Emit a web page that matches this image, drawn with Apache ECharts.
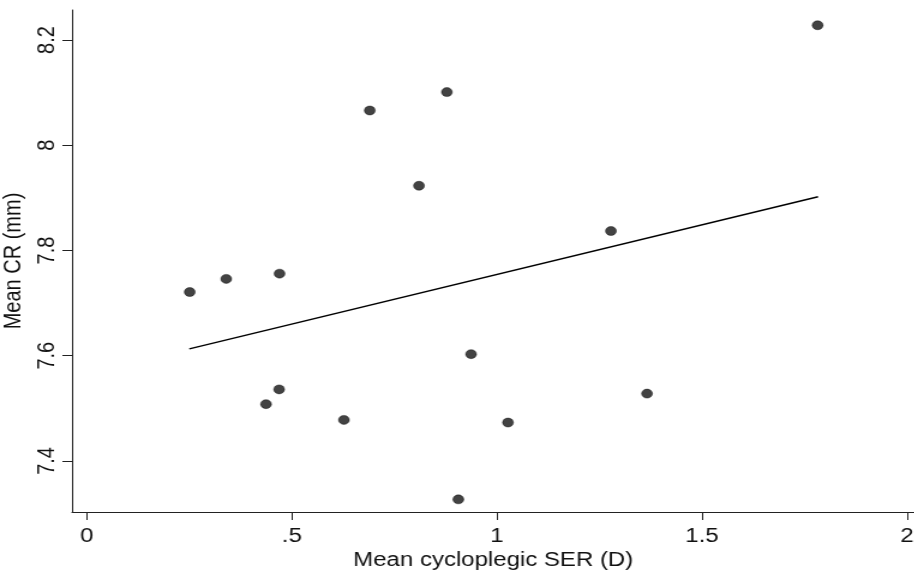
<!DOCTYPE html>
<html>
<head>
<meta charset="utf-8">
<script src="https://cdn.jsdelivr.net/npm/echarts@6/dist/echarts.min.js"></script>
<style>
  html, body { margin: 0; padding: 0; background: #fff; overflow: hidden; }
  /* the figure is drawn narrower and widened by 1.2 horizontally */
  #chart { width: 761.67px; height: 571px; transform: scaleX(1.2); transform-origin: 0 0; }
</style>
</head>
<body>
<div id="chart"></div>
<script>
// Mean cycloplegic spherical equivalent refraction (D) per subject
const serValues = [0.251, 0.340, 0.470, 0.437, 0.469, 0.627, 0.690, 0.810, 0.878, 0.937, 0.906, 1.027, 1.278, 1.366, 1.782];
// Mean corneal radius (mm) per subject
const crValues = [7.721, 7.746, 7.756, 7.508, 7.536, 7.478, 8.066, 7.923, 8.101, 7.603, 7.327, 7.473, 7.837, 7.528, 8.228];

// Linear fit endpoints
const fitSer = [0.250, 1.783];
const fitCr = [7.613, 7.902];

// Tick positions and their labels
const xTicks = [0, 0.5, 1, 1.5, 2];
const xTickLabels = ['0', '.5', '1', '1.5', '2'];
const yTicks = [7.4, 7.6, 7.8, 8, 8.2];
const yTickLabels = ['7.4', '7.6', '7.8', '8', '8.2'];

const points = serValues.map((v, i) => [v, crValues[i]]);
const fitLine = fitSer.map((v, i) => [v, fitCr[i]]);

const font = 'Liberation Sans, Arial, sans-serif';
const axisColor = '#222';
const textColor = '#111';

const chart = echarts.init(document.getElementById('chart'), null, { renderer: 'canvas' });

chart.setOption({
  animation: false,
  backgroundColor: '#ffffff',
  grid: { left: 60, right: 0, top: 10, bottom: 59, containLabel: false, outerBoundsMode: 'none' },
  xAxis: {
    type: 'value',
    min: -0.036,
    max: 2.018,
    name: 'Mean cycloplegic SER (D)',
    nameLocation: 'middle',
    nameGap: 38,
    nameTextStyle: { fontFamily: font, fontSize: 20, color: textColor },
    axisLine: { show: true, onZero: false, lineStyle: { color: axisColor, width: 1 } },
    axisTick: {
      show: true, length: 8, inside: false,
      customValues: xTicks,
      lineStyle: { color: axisColor, width: 1 }
    },
    axisLabel: {
      show: true,
      customValues: xTicks,
      fontFamily: font, fontSize: 20, color: textColor, margin: 14,
      formatter: (val) => {
        const idx = xTicks.findIndex(t => Math.abs(t - val) < 1e-9);
        return idx >= 0 ? xTickLabels[idx] : '';
      }
    },
    splitLine: { show: false }
  },
  yAxis: {
    type: 'value',
    min: 7.303,
    max: 8.257,
    name: 'Mean CR (mm)',
    nameLocation: 'middle',
    nameGap: 38,
    nameRotate: 90,
    nameTextStyle: { fontFamily: font, fontSize: 20, color: textColor },
    axisLine: { show: true, onZero: false, lineStyle: { color: axisColor, width: 1 } },
    axisTick: {
      show: true, length: 8, inside: false,
      customValues: yTicks,
      lineStyle: { color: axisColor, width: 1 }
    },
    axisLabel: {
      show: true,
      customValues: yTicks,
      rotate: 90,
      fontFamily: font, fontSize: 20, color: textColor, margin: 11,
      formatter: (val) => {
        const idx = yTicks.findIndex(t => Math.abs(t - val) < 1e-9);
        return idx >= 0 ? yTickLabels[idx] : '';
      }
    },
    splitLine: { show: false }
  },
  series: [
    {
      type: 'scatter',
      data: points,
      symbol: 'circle',
      symbolSize: 9,
      itemStyle: { color: '#141414', borderColor: '#000', borderWidth: 0.5 },
      z: 3
    },
    {
      type: 'line',
      data: fitLine,
      symbol: 'none',
      lineStyle: { color: '#000', width: 1.5 },
      z: 2
    }
  ]
});
</script>
</body>
</html>
